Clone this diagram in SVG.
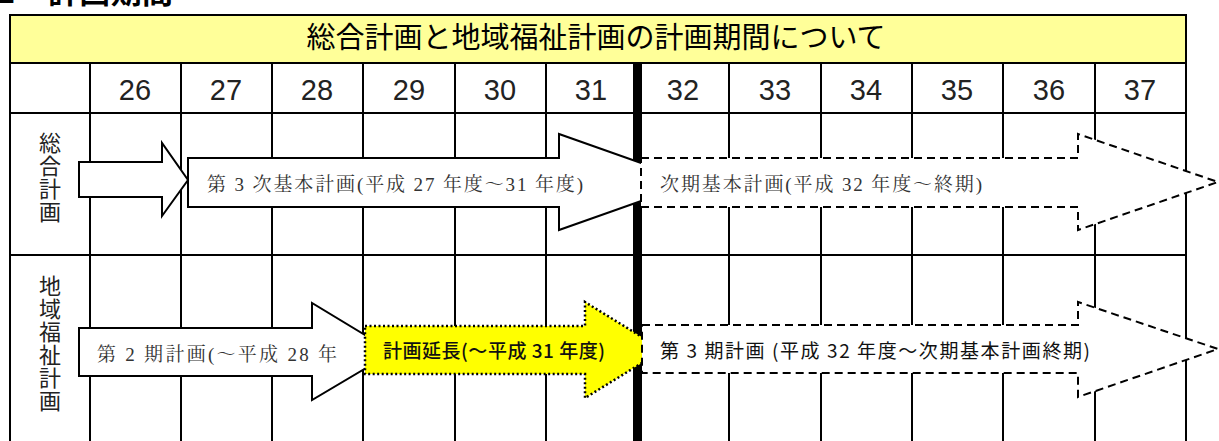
<svg xmlns="http://www.w3.org/2000/svg" width="1219" height="441" viewBox="0 0 1219 441">
<style>
.g{stroke:#000;stroke-width:2;fill:none}
.hd{font-family:"Noto Sans CJK JP","Liberation Sans",sans-serif;font-size:29px;fill:#000}
.yr{font-family:"Liberation Sans","Noto Sans CJK JP",sans-serif;font-size:29px;fill:#222;text-anchor:middle}
.vl{font-family:"Noto Sans CJK JP",sans-serif;font-size:22px;fill:#222;writing-mode:vertical-rl;text-orientation:upright;letter-spacing:1px}
.mc{font-family:"Liberation Serif","Noto Serif CJK JP","Noto Sans CJK JP",serif;font-size:19px;fill:#333}
.gt{font-family:"Noto Sans CJK JP","Liberation Sans",sans-serif;font-size:19px;fill:#111}
.ar{fill:#fff;stroke:#000;stroke-width:2;stroke-linejoin:miter}
.da{fill:#fff;stroke:#000;stroke-width:2;stroke-dasharray:8,5}
.ye{fill:#ffff00;stroke:#000;stroke-width:2.5;stroke-dasharray:2,2.5}
</style>
<rect width="1219" height="441" fill="#fff"/>
<g id="title">
<text x="-3" y="3" font-family="Noto Sans CJK JP,sans-serif" font-size="31" font-weight="bold">1</text>
<text x="48" y="3" font-family="Noto Sans CJK JP,sans-serif" font-size="31" font-weight="bold" textLength="125">計画期間</text>
</g>
<g id="table">
<rect x="10" y="15" width="1176" height="48" fill="#ffff99"/>
<rect x="10" y="15" width="1176" height="440" class="g" stroke-width="2.5"/>
<path class="g" d="M10 63H1186M10 113H1186M10 255H1186
M90 63V441M181 63V441M272 63V441M363 63V441M455 63V441M546 63V441
M729 63V441M821 63V441M912 63V441M1003 63V441M1095 63V441"/>
<rect x="633" y="63" width="9" height="378" fill="#000"/>
<text class="hd" x="596" y="48" text-anchor="middle">総合計画と地域福祉計画の計画期間について</text>
<g class="yr">
<text x="135" y="100">26</text><text x="226" y="100">27</text><text x="317" y="100">28</text>
<text x="409" y="100">29</text><text x="500" y="100">30</text><text x="591" y="100">31</text>
<text x="683" y="100">32</text><text x="775" y="100">33</text><text x="866" y="100">34</text>
<text x="957" y="100">35</text><text x="1049" y="100">36</text><text x="1140" y="100">37</text>
</g>
<text class="vl" x="50" y="132">総合計画</text>
<text class="vl" x="50" y="275">地域福祉計画</text>
</g>
<g id="connectors">
<polygon id="arrow-small" class="ar" points="79,162 162,162 162,143 188,180 162,216 162,197 79,197"/>
</g>
<g id="node-sougou3">
<polygon class="ar" points="188,158 559,158 559,134 695,182 559,230 559,207 188,207"/>
<text class="mc" x="207" y="191" textLength="376">第 3 次基本計画(平成 27 年度～31 年度)</text>
</g>
<g id="node-sougou-next">
<polygon class="da" points="641,158 1078,158 1078,134 1218,182 1078,230 1078,207 641,207"/>
<text class="mc" x="660" y="191" textLength="322">次期基本計画(平成 32 年度～終期)</text>
</g>
<g id="node-fukushi2">
<polygon class="ar" points="79,328 312,328 312,303 393,352 312,400 312,376 79,376"/>
<text class="mc" x="97" y="361" textLength="240">第 2 期計画(～平成 28 年</text>
</g>
<g id="node-extend">
<polygon class="ye" points="365,326 585,326 585,302 663,350 585,398 585,374 365,374"/>
<text class="gt" x="383" y="358" font-weight="500" textLength="222">計画延長(～平成 31 年度)</text>
</g>
<g id="node-fukushi3">
<polygon class="da" points="642,325 1078,325 1078,302 1218,349 1078,397 1078,373 642,373"/>
<text class="gt" x="660" y="358" textLength="430">第 3 期計画 (平成 32 年度～次期基本計画終期)</text>
</g>
</svg>
